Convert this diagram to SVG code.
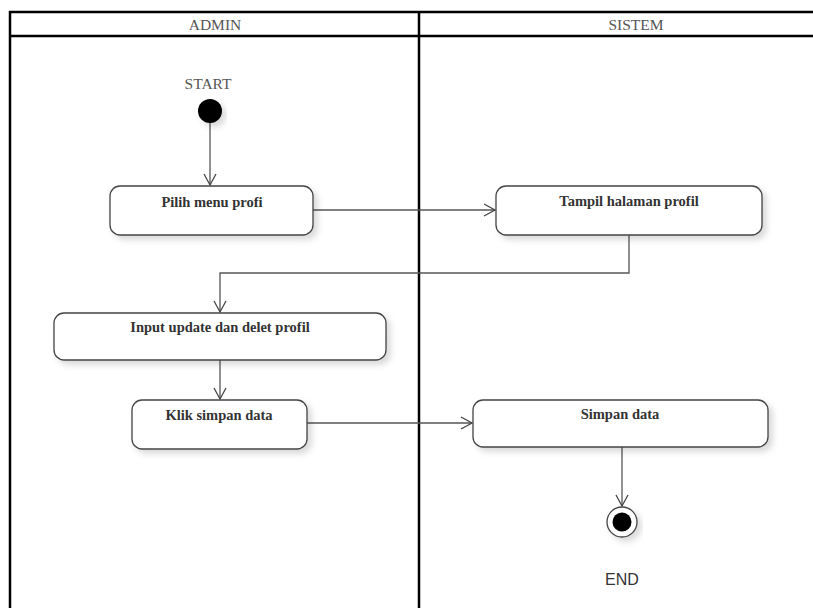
<svg xmlns="http://www.w3.org/2000/svg" width="813" height="608" viewBox="0 0 813 608">
<defs>
<style>
.frame{stroke:#000;stroke-width:2.5;fill:none}
.act{fill:#fff;stroke:#444;stroke-width:1.3;filter:url(#sh)}
.lbl{font-family:"Liberation Serif",serif;font-weight:bold;font-size:14.5px;fill:#333;text-anchor:middle}
.hdr{font-family:"Liberation Serif",serif;font-size:15.5px;fill:#555;text-anchor:middle}
.con{stroke:#555;stroke-width:1.3;fill:none;marker-end:url(#ah)}
</style>
<marker id="ah" markerWidth="14" markerHeight="14" refX="12" refY="7" orient="auto" markerUnits="userSpaceOnUse">
<path d="M1,1 L12,7 L1,13" fill="none" stroke="#444" stroke-width="1.3"/>
</marker>
<filter id="sh" x="-10%" y="-20%" width="130%" height="160%">
<feDropShadow dx="4" dy="4" stdDeviation="3" flood-color="#000" flood-opacity="0.15"/>
</filter>
</defs>
<rect width="813" height="608" fill="#fff"/>
<g id="lanes">
<path class="frame" d="M10,608 V12 H813 M10,36 H813 M419,12 V608"/>
<text class="hdr" x="215" y="30">ADMIN</text>
<text class="hdr" x="636" y="30">SISTEM</text>
</g>
<g id="connectors">
<line class="con" x1="210" y1="122" x2="210" y2="185"/>
<line class="con" x1="313" y1="210" x2="495" y2="210"/>
<path class="con" d="M629,235 V273 H220 V312"/>
<line class="con" x1="220" y1="360" x2="220" y2="399"/>
<line class="con" x1="307" y1="423" x2="472" y2="423"/>
<line class="con" x1="622" y1="447" x2="622" y2="506"/>
</g>
<g id="start">
<text class="hdr" x="208" y="89">START</text>
<circle cx="210" cy="111" r="12" fill="#000" filter="url(#sh)"/>
</g>
<g id="pilih">
<rect class="act" x="110" y="186" width="203" height="49" rx="10"/>
<text class="lbl" x="212" y="207">Pilih menu profi</text>
</g>
<g id="tampil">
<rect class="act" x="496" y="186" width="266" height="49" rx="10"/>
<text class="lbl" x="629" y="206">Tampil halaman profil</text>
</g>
<g id="input">
<rect class="act" x="54" y="313" width="332" height="47" rx="10"/>
<text class="lbl" x="220" y="332">Input update dan delet profil</text>
</g>
<g id="klik">
<rect class="act" x="132" y="400" width="175" height="49" rx="10"/>
<text class="lbl" x="219" y="420">Klik simpan data</text>
</g>
<g id="simpan">
<rect class="act" x="473" y="400" width="295" height="47" rx="10"/>
<text class="lbl" x="620" y="419">Simpan data</text>
</g>
<g id="end">
<circle cx="622" cy="522" r="15" fill="#fff" stroke="#444" stroke-width="1.3" filter="url(#sh)"/>
<circle cx="622" cy="522" r="9.5" fill="#000"/>
<text x="622" y="585" font-family="Liberation Sans, sans-serif" font-size="16" fill="#333" text-anchor="middle">END</text>
</g>
</svg>
